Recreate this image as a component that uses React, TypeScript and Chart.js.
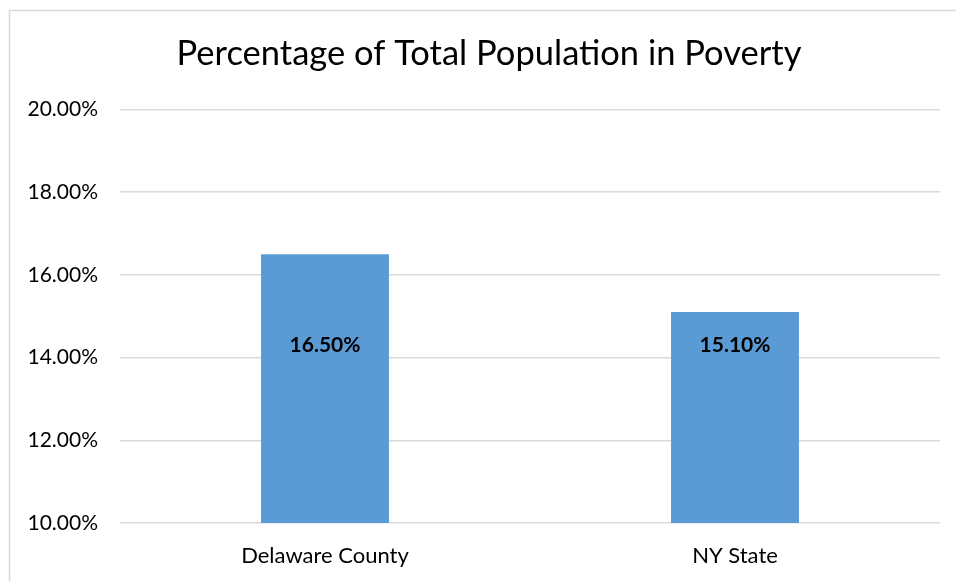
import React, { useEffect, useRef } from "react";
import { Chart, registerables } from "chart.js";

Chart.register(...registerables);

const categories = ["Delaware County", "NY State"];
const povertyRates = [16.5, 15.1];
const yTickValues = [10, 12, 14, 16, 18, 20];
const titleText = "Percentage of Total Population in Poverty";

const FONT = "Lato, 'Open Sans', sans-serif";
const LABEL_VALUE_POS = 14.3;

const frame = {
  id: "frame",
  beforeDraw(chart: any) {
    const ctx = chart.ctx;
    ctx.save();
    ctx.fillStyle = "#ffffff";
    ctx.fillRect(0, 0, chart.width, chart.height);
    ctx.strokeStyle = "#d9d9d9";
    ctx.lineWidth = 1.5;
    ctx.beginPath();
    ctx.moveTo(9.5, chart.height);
    ctx.lineTo(9.5, 10.5);
    ctx.lineTo(chart.width, 10.5);
    ctx.stroke();
    ctx.restore();
  },
};

const centeredTitle = {
  id: "centeredTitle",
  afterDraw(chart: any) {
    const t = chart.titleBlock;
    if (!t) return;
    const ctx = chart.ctx;
    ctx.save();
    ctx.font = `normal 34.5px ${FONT}`;
    ctx.fillStyle = "#000000";
    ctx.textAlign = "center";
    ctx.textBaseline = "middle";
    const cx = (chart.width + 22) / 2;
    ctx.fillText(titleText, cx, t.top + t.height / 2 - 0.5);
    ctx.restore();
  },
};

const valueLabels = {
  id: "valueLabels",
  afterDatasetsDraw(chart: any) {
    const ctx = chart.ctx;
    const meta = chart.getDatasetMeta(0);
    const y = chart.scales.y.getPixelForValue(LABEL_VALUE_POS);
    ctx.save();
    ctx.font = `bold 21px ${FONT}`;
    ctx.fillStyle = "#000000";
    ctx.textAlign = "center";
    ctx.textBaseline = "middle";
    meta.data.forEach((bar: any, i: number) => {
      ctx.fillText(povertyRates[i].toFixed(2) + "%", bar.x, y);
    });
    ctx.restore();
  },
};

export default function App() {
  const ref = useRef<HTMLCanvasElement | null>(null);
  useEffect(() => {
    document.body.style.margin = "0";
    const chart = new Chart(ref.current as HTMLCanvasElement, {
      type: "bar",
      data: {
        labels: categories,
        datasets: [
          {
            data: povertyRates,
            backgroundColor: "#5b9bd5",
            borderWidth: 0,
            categoryPercentage: 1,
            barPercentage: 0.312,
          },
        ],
      },
      plugins: [frame, valueLabels, centeredTitle],
      options: {
        animation: false,
        responsive: false,
        maintainAspectRatio: false,
        layout: { padding: { left: 0, right: 16, top: 0, bottom: 0 } },
        plugins: {
          legend: { display: false },
          tooltip: { enabled: false },
          title: {
            display: true,
            text: titleText,
            color: "rgba(0,0,0,0)",
            font: { family: FONT, size: 34.5, weight: "normal" },
            padding: { top: 34, bottom: 34 },
          },
        },
        scales: {
          x: {
            grid: { display: false },
            border: { display: false },
            ticks: {
              color: "#000000",
              font: { family: FONT, size: 22 },
              padding: 12,
            },
            afterFit(scale: any) {
              scale.height = 58;
            },
          },
          y: {
            min: 10,
            max: 20,
            border: { display: false },
            grid: { color: "#d9d9d9", lineWidth: 1.5, drawTicks: false },
            afterBuildTicks(scale: any) {
              scale.ticks = yTickValues.map((v) => ({ value: v }));
            },
            ticks: {
              color: "#000000",
              font: { family: FONT, size: 21 },
              padding: 22,
              callback: (v: any) => Number(v).toFixed(2) + "%",
            },
            afterFit(scale: any) {
              scale.width = 120;
            },
          },
        },
      },
    });
    return () => chart.destroy();
  }, []);
  return (
    <div style={{ width: 956, height: 581 }}>
      <canvas ref={ref} width={956} height={581} style={{ display: "block" }} />
    </div>
  );
}
